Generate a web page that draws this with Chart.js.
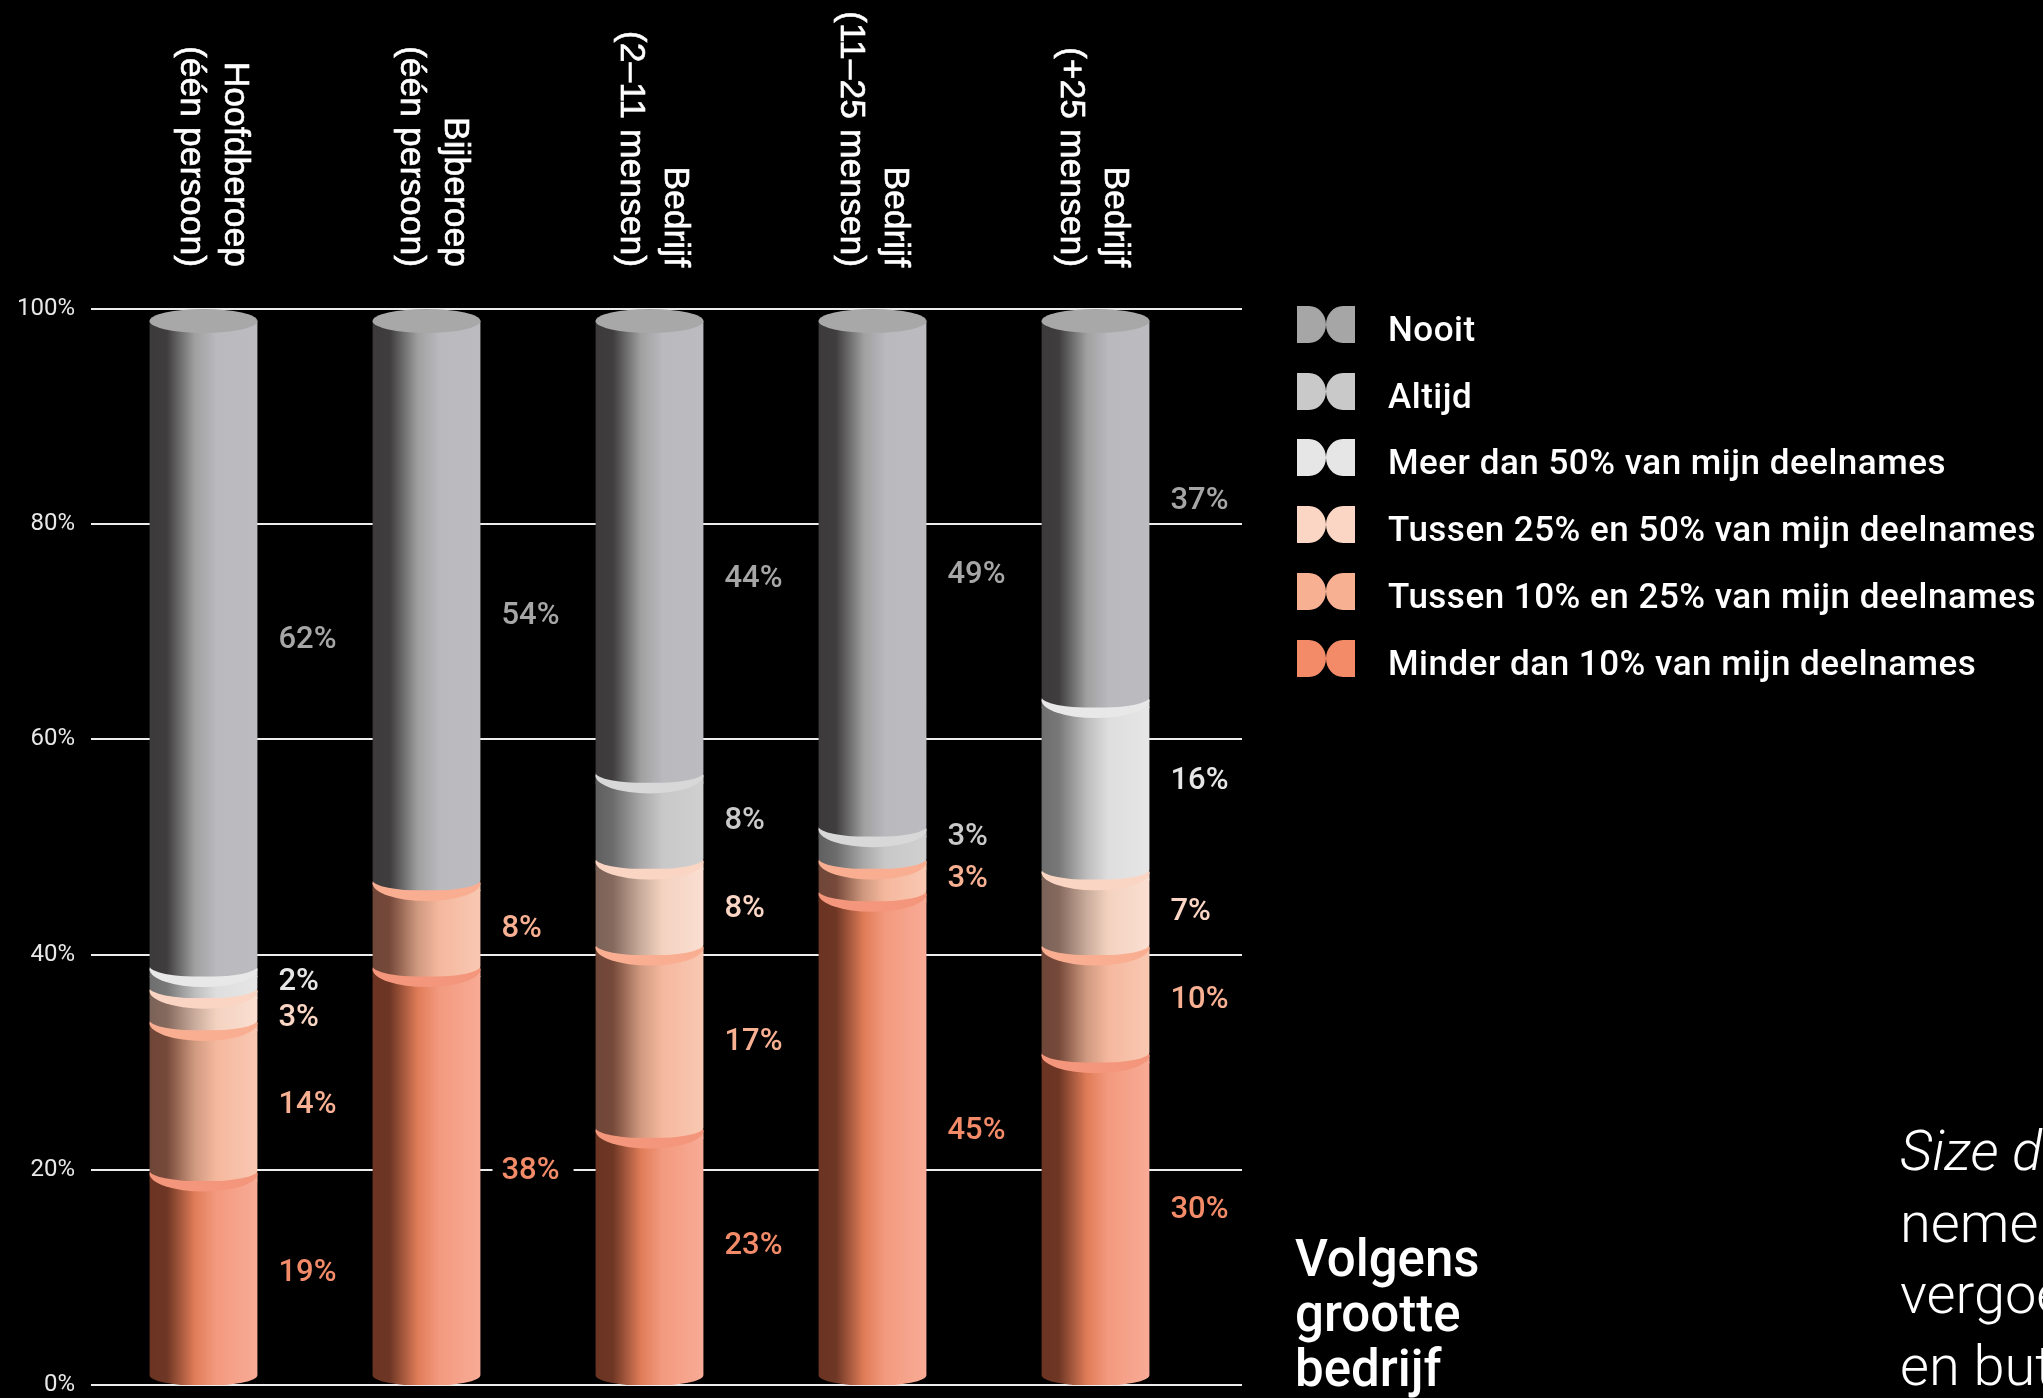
<!DOCTYPE html>
<html lang="nl">
<head>
<meta charset="utf-8">
<title>Volgens grootte bedrijf</title>
<script src="https://cdn.jsdelivr.net/npm/chart.js@4"></script>
<style>
  html, body { margin: 0; background: #000; }
  #page { position: relative; width: 2043px; height: 1398px; overflow: hidden; background: #000; color: #fff; font-family: Roboto, sans-serif; }
  #chart { position: absolute; left: 0; top: 0; }
  #legend { position: absolute; left: 1297px; top: 296px; }
  .row { display: flex; align-items: center; height: 66.8px; font-size: 35px; font-weight: 500; letter-spacing: 0.5px; white-space: nowrap; }
  .row svg { width: 58px; height: 37px; margin-right: 33px; margin-top: -10px; }
  #title { position: absolute; left: 1295px; top: 1231px; font-size: 51px; font-weight: 500; line-height: 55px; }
  #note { position: absolute; left: 1900px; top: 1116px; width: 143px; overflow: hidden; font-size: 56px; font-weight: 300; line-height: 71.5px; white-space: nowrap; }
  #note em { font-style: italic; }
</style>
</head>
<body>
<div id="page">
  <canvas id="chart" width="2043" height="1398"></canvas>
  <div id="legend"></div>
  <div id="title">Volgens<br>grootte<br>bedrijf</div>
  <div id="note"><em>Size d</em><br>neme<br>vergoe<br>en but</div>
</div>
<script>
const categories = [
  ['Hoofdberoep', '(één persoon)'],
  ['Bijberoep', '(één persoon)'],
  ['Bedrijf', '(2–11 mensen)'],
  ['Bedrijf', '(11–25 mensen)'],
  ['Bedrijf', '(+25 mensen)']
];

const seriesNames = [
  'Nooit',
  'Altijd',
  'Meer dan 50% van mijn deelnames',
  'Tussen 25% en 50% van mijn deelnames',
  'Tussen 10% en 25% van mijn deelnames',
  'Minder dan 10% van mijn deelnames'
];

const nooit = [62, 54, 44, 49, 37];
const altijd = [0, 0, 8, 3, 0];
const meerDan50 = [2, 0, 0, 0, 16];
const tussen25en50 = [3, 0, 8, 0, 7];
const tussen10en25 = [14, 8, 17, 3, 10];
const minderDan10 = [19, 38, 23, 45, 30];
const seriesValues = [nooit, altijd, meerDan50, tussen25en50, tussen10en25, minderDan10];

const yTicks = [0, 20, 40, 60, 80, 100];

const legendColors = ['#a6a6a6', '#c9c9c9', '#e6e6e6', '#fbd6c5', '#f8b093', '#f38b68'];
const capColors = ['#a8a8a8', '#d8d8d8', '#e8e8e8', '#fbd5c4', '#f9ae92', '#f4967b'];
const bodyStops = [
  ['#3c3a3b', '#3f3d3e', '#a0a0a0', '#b9b9be', '#bcbcc0'],
  ['#5f5f5f', '#6c6c6c', '#a8a8a8', '#c8c8c8', '#d0d0d0'],
  ['#6e6e6e', '#787878', '#bdbdbd', '#dedede', '#e6e6e6'],
  ['#7a6258', '#85695d', '#c9ac9c', '#f4d2c0', '#fadfd2'],
  ['#6e4638', '#76493a', '#d09a80', '#f5b89e', '#f9c8b2'],
  ['#6b3422', '#6e3624', '#e07c58', '#f39a7f', '#f8ab96']
];
// small vertical shifts so a label sits where the picture has it
const labelShift = [[5, 24, 41, 10, 0], [0, 0, 3, -8, 0], [2, 0, 0, 0, -5], [11, 0, 5, 0, 2], [7, 3, 3, 2, -1], [-3, -2, -8, -5, -6]];

const barWidth = 108;

// floating [from, to] pairs, built from the bottom of each column upwards
const running = categories.map(() => 0);
const floats = seriesValues.slice().reverse().map(values => values.map((v, i) => {
  if (!v) return null;
  const pair = [running[i], running[i] + v];
  running[i] += v;
  return pair;
})).reverse();

function bodyFill(ctx, s) {
  const chart = ctx.chart;
  if (!chart.chartArea || ctx.dataIndex === undefined) return legendColors[s];
  const x = chart.scales.x.getPixelForValue(ctx.dataIndex);
  return horizontalGradient(chart.ctx, x, s);
}

function horizontalGradient(c, x, s) {
  const g = c.createLinearGradient(x - barWidth / 2, 0, x + barWidth / 2, 0);
  [0, 0.16, 0.42, 0.62, 1].forEach((p, i) => g.addColorStop(p, bodyStops[s][i]));
  return g;
}

const gridPlugin = {
  id: 'fullGrid',
  beforeDatasetsDraw(chart) {
    const c = chart.ctx;
    c.save();
    c.strokeStyle = '#ececec';
    c.lineWidth = 2;
    chart.scales.y.ticks.forEach(t => {
      const y = Math.round(chart.scales.y.getPixelForValue(t.value));
      c.beginPath();
      c.moveTo(91, y);
      c.lineTo(1242, y);
      c.stroke();
    });
    c.restore();
  }
};

const capRise = 7;

const cylinderPlugin = {
  id: 'cylinders',
  beforeDatasetDraw(chart, args) {
    const c = chart.ctx;
    c.save();
    c.beginPath();
    args.meta.data.forEach((el, i) => {
      if (!floats[args.index][i]) return;
      const left = el.x - el.width / 2, right = el.x + el.width / 2;
      const top = el.y < chart.chartArea.top + 1 ? el.y + 12 : el.y;
      c.moveTo(left, top);
      c.lineTo(left, el.base - 10);
      c.ellipse(el.x, el.base - 10, el.width / 2, 11, 0, Math.PI, 0, true);
      c.lineTo(right, top);
      c.closePath();
    });
    c.clip();
  },
  afterDatasetDraw(chart, args) {
    const c = chart.ctx;
    c.restore();
    args.meta.data.forEach((el, i) => {
      if (!floats[args.index][i]) return;
      const atTop = el.y < chart.chartArea.top + 1;
      const cy = atTop ? el.y + 12 : el.y - capRise;
      const ry = atTop ? 12 : 18;
      if (!atTop) {
        c.fillStyle = horizontalGradient(c, el.x, args.index);
        c.fillRect(el.x - el.width / 2, cy, el.width, el.y - cy + 1);
      }
      c.fillStyle = capColors[args.index];
      c.beginPath();
      c.ellipse(el.x, cy, el.width / 2, ry, 0, 0, Math.PI * 2);
      c.fill();
    });
  }
};

const labelPlugin = {
  id: 'labels',
  afterDatasetsDraw(chart) {
    const c = chart.ctx;
    c.save();
    // category names, turned a quarter to read downwards
    c.fillStyle = '#fff';
    c.strokeStyle = '#fff';
    c.lineWidth = 0.6;
    c.font = '35.5px "Liberation Sans"';
    c.textAlign = 'right';
    c.textBaseline = 'alphabetic';
    categories.forEach((lines, i) => {
      const x = chart.scales.x.getPixelForValue(i) - 3 * i - 3;
      [24, -20].forEach((dx, n) => {
        c.save();
        c.translate(x + dx, 267);
        c.rotate(Math.PI / 2);
        c.fillText(lines[n], 0, 0);
        c.strokeText(lines[n], 0, 0);
        c.restore();
      });
    });
    // value labels next to each column
    c.font = '500 31px Roboto';
    c.textAlign = 'left';
    c.textBaseline = 'middle';
    seriesValues.forEach((values, s) => {
      chart.getDatasetMeta(s).data.forEach((el, i) => {
        if (!values[i]) return;
        const text = values[i] + '%';
        const x = el.x + el.width / 2 + 21;
        const y = (el.y + el.base) / 2 - 7 + labelShift[s][i];
        c.fillStyle = '#000';
        c.fillRect(x - 9, y - 12, c.measureText(text).width + 23, 24);
        c.fillStyle = legendColors[s];
        c.fillText(text, x, y);
      });
    });
    c.restore();
  }
};

new Chart(document.getElementById('chart'), {
  type: 'bar',
  data: {
    labels: categories,
    datasets: seriesNames.map((name, s) => ({
      label: name,
      data: floats[s],
      grouped: false,
      barThickness: barWidth,
      backgroundColor: ctx => bodyFill(ctx, s),
      borderWidth: 0
    }))
  },
  plugins: [gridPlugin, cylinderPlugin, labelPlugin],
  options: {
    responsive: false,
    animation: false,
    layout: { padding: { left: 0, top: 0, right: 836, bottom: 13 } },
    plugins: { legend: { display: false }, tooltip: { enabled: false } },
    scales: {
      x: {
        position: 'top',
        grid: { display: false },
        border: { display: false },
        ticks: { display: false },
        afterFit(scale) { scale.height = 309; }
      },
      y: {
        min: 0,
        max: 100,
        afterBuildTicks(scale) { scale.ticks = yTicks.map(value => ({ value })); },
        grid: { display: false, drawTicks: false },
        border: { display: false },
        ticks: {
          padding: 17,
          color: '#e8e8e8',
          font: { family: 'Roboto', size: 24 },
          callback: v => v + '%'
        },
        afterFit(scale) {
          scale.width = 92;
          scale.paddingTop = 0;
          scale.paddingBottom = 0;
        }
      }
    }
  }
});

const legend = document.getElementById('legend');
seriesNames.forEach((name, s) => {
  const row = document.createElement('div');
  row.className = 'row';
  row.innerHTML = '<svg viewBox="0 0 58 37"><path fill="' + legendColors[s] + '" d="M0 0H12C22 0 29 9 29 18.5C29 28 22 37 12 37H0ZM58 0H46C36 0 29 9 29 18.5C29 28 36 37 46 37H58Z"/></svg><span>' + name + '</span>';
  legend.appendChild(row);
});
</script>
</body>
</html>
